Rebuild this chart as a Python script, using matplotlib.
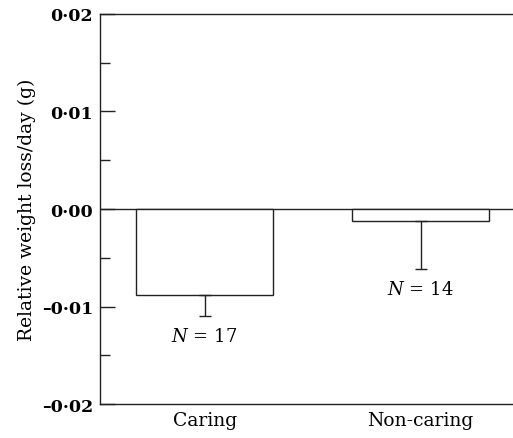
import numpy as np
import matplotlib
matplotlib.use('Agg')
import matplotlib.pyplot as plt
from matplotlib.ticker import MultipleLocator, FuncFormatter

groups = ['Caring', 'Non-caring']
means = [-0.0088, -0.00125]
errs = [0.0022, 0.0049]
n_labels = ['17', '14']

plt.rcParams['font.family'] = 'DejaVu Serif'
plt.rcParams['mathtext.fontset'] = 'dejavuserif'
line_col = '#222222'

fig = plt.figure(figsize=(5.13, 4.39), dpi=100)
ax = fig.add_axes([0.195, 0.077, 0.805, 0.889])

x = np.arange(len(groups))
ax.bar(x, means, width=0.634, color='white', edgecolor=line_col, linewidth=1.0, zorder=2)
ax.errorbar(x, means, yerr=[errs, [0] * len(errs)], fmt='none', ecolor=line_col,
            elinewidth=1.0, capsize=4.5, capthick=1.0, zorder=3)
ax.axhline(0, color=line_col, linewidth=1.0, zorder=1)

for xi, m, e, n in zip(x, means, errs, n_labels):
    ax.text(xi, m - e - 0.0011, r'$N$' + ' = ' + n, ha='center', va='top', fontsize=13)

ax.set_xlim(-0.484, 1.428)
ax.set_ylim(-0.02, 0.02)
ax.set_xticks(x)
ax.set_xticklabels(groups, fontsize=13.5)
ax.tick_params(axis='x', length=0, pad=5)

ax.yaxis.set_major_locator(MultipleLocator(0.01))
ax.yaxis.set_minor_locator(MultipleLocator(0.005))

def fmt(v, pos):
    s = '%.2f' % abs(v)
    s = s.replace('.', '\u00b7')
    if v < -1e-9:
        s = '\u2013' + s
    return s

ax.yaxis.set_major_formatter(FuncFormatter(fmt))
ax.tick_params(axis='y', which='major', direction='in', length=11, width=1.0,
               color=line_col, labelsize=12.5, pad=5)
ax.tick_params(axis='y', which='minor', direction='in', length=7, width=1.0, color=line_col)
for lab in ax.get_yticklabels():
    lab.set_fontweight('bold')

ax.set_ylabel('Relative weight loss/day (g)', fontsize=13.5, labelpad=4)

ax.spines['right'].set_visible(False)
for s in ['left', 'top', 'bottom']:
    ax.spines[s].set_color(line_col)
    ax.spines[s].set_linewidth(1.0)

fig.savefig('out.png', dpi=100)
